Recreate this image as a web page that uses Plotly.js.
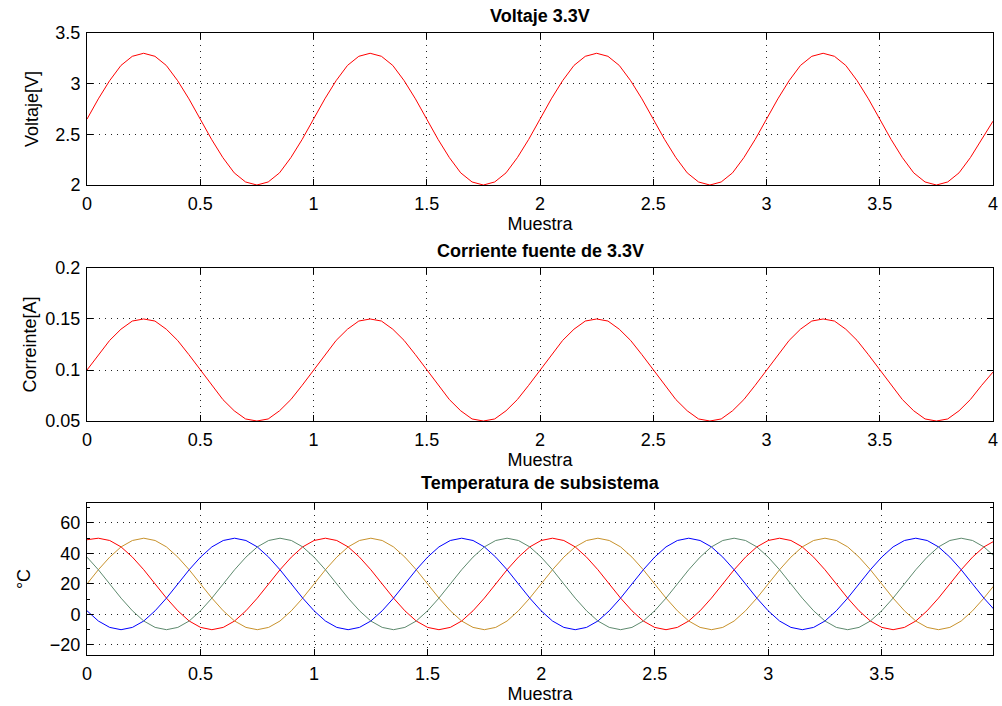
<!DOCTYPE html>
<html>
<head>
<meta charset="utf-8">
<script src="https://cdn.plot.ly/plotly-3.0.1.min.js"></script>
<style>html,body{margin:0;padding:0;background:#fff;}#chart{width:1002px;height:706px;}</style>
</head>
<body>
<div id="chart"></div>
<script>
const muestra = [0,0.05,0.1,0.15,0.2,0.25,0.3,0.35,0.4,0.45,0.5,0.55,0.6,0.65,0.7,0.75,0.8,0.85,0.9,0.95,
  1,1.05,1.1,1.15,1.2,1.25,1.3,1.35,1.4,1.45,1.5,1.55,1.6,1.65,1.7,1.75,1.8,1.85,1.9,1.95,
  2,2.05,2.1,2.15,2.2,2.25,2.3,2.35,2.4,2.45,2.5,2.55,2.6,2.65,2.7,2.75,2.8,2.85,2.9,2.95,
  3,3.05,3.1,3.15,3.2,3.25,3.3,3.35,3.4,3.45,3.5,3.55,3.6,3.65,3.7,3.75,3.8,3.85,3.9,3.95,4];

const voltaje = [
  2.65,2.85,3.03,3.18,3.27,3.30,3.27,3.18,3.03,2.85,2.65,2.45,2.27,2.12,2.03,2.00,2.03,2.12,2.27,2.45,
  2.65,2.85,3.03,3.18,3.27,3.30,3.27,3.18,3.03,2.85,2.65,2.45,2.27,2.12,2.03,2.00,2.03,2.12,2.27,2.45,
  2.65,2.85,3.03,3.18,3.27,3.30,3.27,3.18,3.03,2.85,2.65,2.45,2.27,2.12,2.03,2.00,2.03,2.12,2.27,2.45,
  2.65,2.85,3.03,3.18,3.27,3.30,3.27,3.18,3.03,2.85,2.65,2.45,2.27,2.12,2.03,2.00,2.03,2.12,2.27,2.45,
  2.63];

const corriente = [
  0.100,0.115,0.129,0.140,0.148,0.150,0.148,0.140,0.129,0.115,0.100,0.085,0.071,0.060,0.052,0.050,0.052,0.060,0.071,0.085,
  0.100,0.115,0.129,0.140,0.148,0.150,0.148,0.140,0.129,0.115,0.100,0.085,0.071,0.060,0.052,0.050,0.052,0.060,0.071,0.085,
  0.100,0.115,0.129,0.140,0.148,0.150,0.148,0.140,0.129,0.115,0.100,0.085,0.071,0.060,0.052,0.050,0.052,0.060,0.071,0.085,
  0.100,0.115,0.129,0.140,0.148,0.150,0.148,0.140,0.129,0.115,0.100,0.085,0.071,0.060,0.052,0.050,0.052,0.060,0.071,0.085,
  0.098];

const tempRoja = [
  49,50,48.5,44.3,37.6,29.3,20,10.7,2.4,-4.3,-8.5,-10,-8.5,-4.3,2.4,10.7,20,29.3,37.6,44.3,
  48.5,50,48.5,44.3,37.6,29.3,20,10.7,2.4,-4.3,-8.5,-10,-8.5,-4.3,2.4,10.7,20,29.3,37.6,44.3,
  48.5,50,48.5,44.3,37.6,29.3,20,10.7,2.4,-4.3,-8.5,-10,-8.5,-4.3,2.4,10.7,20,29.3,37.6,44.3,
  48.5,50,48.5,44.3,37.6,29.3,20,10.7,2.4,-4.3,-8.5,-10,-8.5,-4.3,2.4,10.7,20,29.3,37.6,44.3,
  48.5];

const tempNaranja = [
  20,29.3,37.6,44.3,48.5,50,48.5,44.3,37.6,29.3,20,10.7,2.4,-4.3,-8.5,-10,-8.5,-4.3,2.4,10.7,
  20,29.3,37.6,44.3,48.5,50,48.5,44.3,37.6,29.3,20,10.7,2.4,-4.3,-8.5,-10,-8.5,-4.3,2.4,10.7,
  20,29.3,37.6,44.3,48.5,50,48.5,44.3,37.6,29.3,20,10.7,2.4,-4.3,-8.5,-10,-8.5,-4.3,2.4,10.7,
  20,29.3,37.6,44.3,48.5,50,48.5,44.3,37.6,29.3,20,10.7,2.4,-4.3,-8.5,-10,-8.5,-4.3,2.4,10.7,
  20];

const tempAzul = [
  2.4,-4.3,-8.5,-10,-8.5,-4.3,2.4,10.7,20,29.3,37.6,44.3,48.5,50,48.5,44.3,37.6,29.3,20,10.7,
  2.4,-4.3,-8.5,-10,-8.5,-4.3,2.4,10.7,20,29.3,37.6,44.3,48.5,50,48.5,44.3,37.6,29.3,20,10.7,
  2.4,-4.3,-8.5,-10,-8.5,-4.3,2.4,10.7,20,29.3,37.6,44.3,48.5,50,48.5,44.3,37.6,29.3,20,10.7,
  2.4,-4.3,-8.5,-10,-8.5,-4.3,2.4,10.7,20,29.3,37.6,44.3,48.5,50,48.5,44.3,37.6,29.3,20,10.7,
  2.4];

const tempVerde = [
  37.6,29.3,20,10.7,2.4,-4.3,-8.5,-10,-8.5,-4.3,2.4,10.7,20,29.3,37.6,44.3,48.5,50,48.5,44.3,
  37.6,29.3,20,10.7,2.4,-4.3,-8.5,-10,-8.5,-4.3,2.4,10.7,20,29.3,37.6,44.3,48.5,50,48.5,44.3,
  37.6,29.3,20,10.7,2.4,-4.3,-8.5,-10,-8.5,-4.3,2.4,10.7,20,29.3,37.6,44.3,48.5,50,48.5,44.3,
  37.6,29.3,20,10.7,2.4,-4.3,-8.5,-10,-8.5,-4.3,2.4,10.7,20,29.3,37.6,44.3,48.5,50,48.5,44.3,
  37.6];

const titulos = ["Voltaje 3.3V", "Corriente fuente de 3.3V", "Temperatura de subsistema"];
const ejeX = "Muestra";
const ejesY = ["Voltaje[V]", "Correinte[A]", "°C"];

const FONT = "Liberation Sans, Arial, Helvetica, sans-serif";

function line(x, y, color, xa, ya) {
  return {x: x, y: y, type: "scatter", mode: "lines", xaxis: xa, yaxis: ya,
          line: {color: color, width: 1}, hoverinfo: "skip"};
}

const traces = [
  line(muestra, voltaje, "#ff0000", "x", "y"),
  line(muestra, corriente, "#ff0000", "x2", "y2"),
  line(muestra, tempRoja, "#ff0000", "x3", "y3"),
  line(muestra, tempNaranja, "#c8922c", "x3", "y3"),
  line(muestra, tempAzul, "#0000ff", "x3", "y3"),
  line(muestra, tempVerde, "#5e8a6e", "x3", "y3")
];

function xax(anchor, range, title) {
  return {
    anchor: anchor, domain: [0, 1], range: range, dtick: 0.5, tick0: 0,
    showline: true, linecolor: "#000", linewidth: 1, mirror: "ticks",
    ticks: "inside", ticklen: 6, tickcolor: "#000", tickwidth: 1,
    showgrid: true, gridcolor: "#222", gridwidth: 1, griddash: "1px,5px",
    zeroline: false, ticklabelstandoff: 2,
    tickfont: {family: FONT, size: 18, color: "#000"},
    title: {text: title, font: {family: FONT, size: 18, color: "#000"}, standoff: 0}
  };
}
function yax(anchor, domain, range, dtick, tick0, title, standoff) {
  return {
    anchor: anchor, domain: domain, range: range, dtick: dtick, tick0: tick0,
    showline: true, linecolor: "#000", linewidth: 1, mirror: "ticks",
    ticks: "inside", ticklen: 6, tickcolor: "#000", tickwidth: 1,
    showgrid: true, gridcolor: "#222", gridwidth: 1, griddash: "1px,5px",
    zeroline: false, ticklabelstandoff: 2,
    tickfont: {family: FONT, size: 18, color: "#000"},
    title: {text: title, font: {family: FONT, size: 18, color: "#000"}, standoff: standoff}
  };
}

const yax3 = yax("x3", [0, 0.2444], [-26.6, 73.1], 20, 0, ejesY[2], 14);
yax3.minor = {dtick: 10, ticks: "inside", ticklen: 3, tickcolor: "#000", showgrid: false};

const layout = {
  width: 1002, height: 706,
  margin: {l: 87, r: 9, t: 33, b: 51},
  paper_bgcolor: "#fff", plot_bgcolor: "#fff",
  showlegend: false,
  xaxis: xax("y", [0, 4], ejeX),
  yaxis: yax("x", [0.7556, 1], [2, 3.5], 0.5, 2, ejesY[0], 12),
  xaxis2: xax("y2", [0, 4], ejeX),
  yaxis2: yax("x2", [0.3762, 0.6222], [0.05, 0.2], 0.05, 0.05, ejesY[1], 4),
  xaxis3: xax("y3", [0, 3.99], ejeX),
  yaxis3: yax3,
  annotations: [
    {text: titulos[0], xref: "paper", yref: "paper", x: 0.5, y: 1.027, xanchor: "center", yanchor: "middle", showarrow: false,
     font: {family: FONT, size: 18, color: "#000", weight: "bold"}},
    {text: titulos[1], xref: "paper", yref: "paper", x: 0.5, y: 0.650, xanchor: "center", yanchor: "middle", showarrow: false,
     font: {family: FONT, size: 18, color: "#000", weight: "bold"}},
    {text: titulos[2], xref: "paper", yref: "paper", x: 0.5, y: 0.277, xanchor: "center", yanchor: "middle", showarrow: false,
     font: {family: FONT, size: 18, color: "#000", weight: "bold"}}
  ]
};

Plotly.newPlot("chart", traces, layout, {staticPlot: true, displayModeBar: false});
</script>
</body>
</html>
